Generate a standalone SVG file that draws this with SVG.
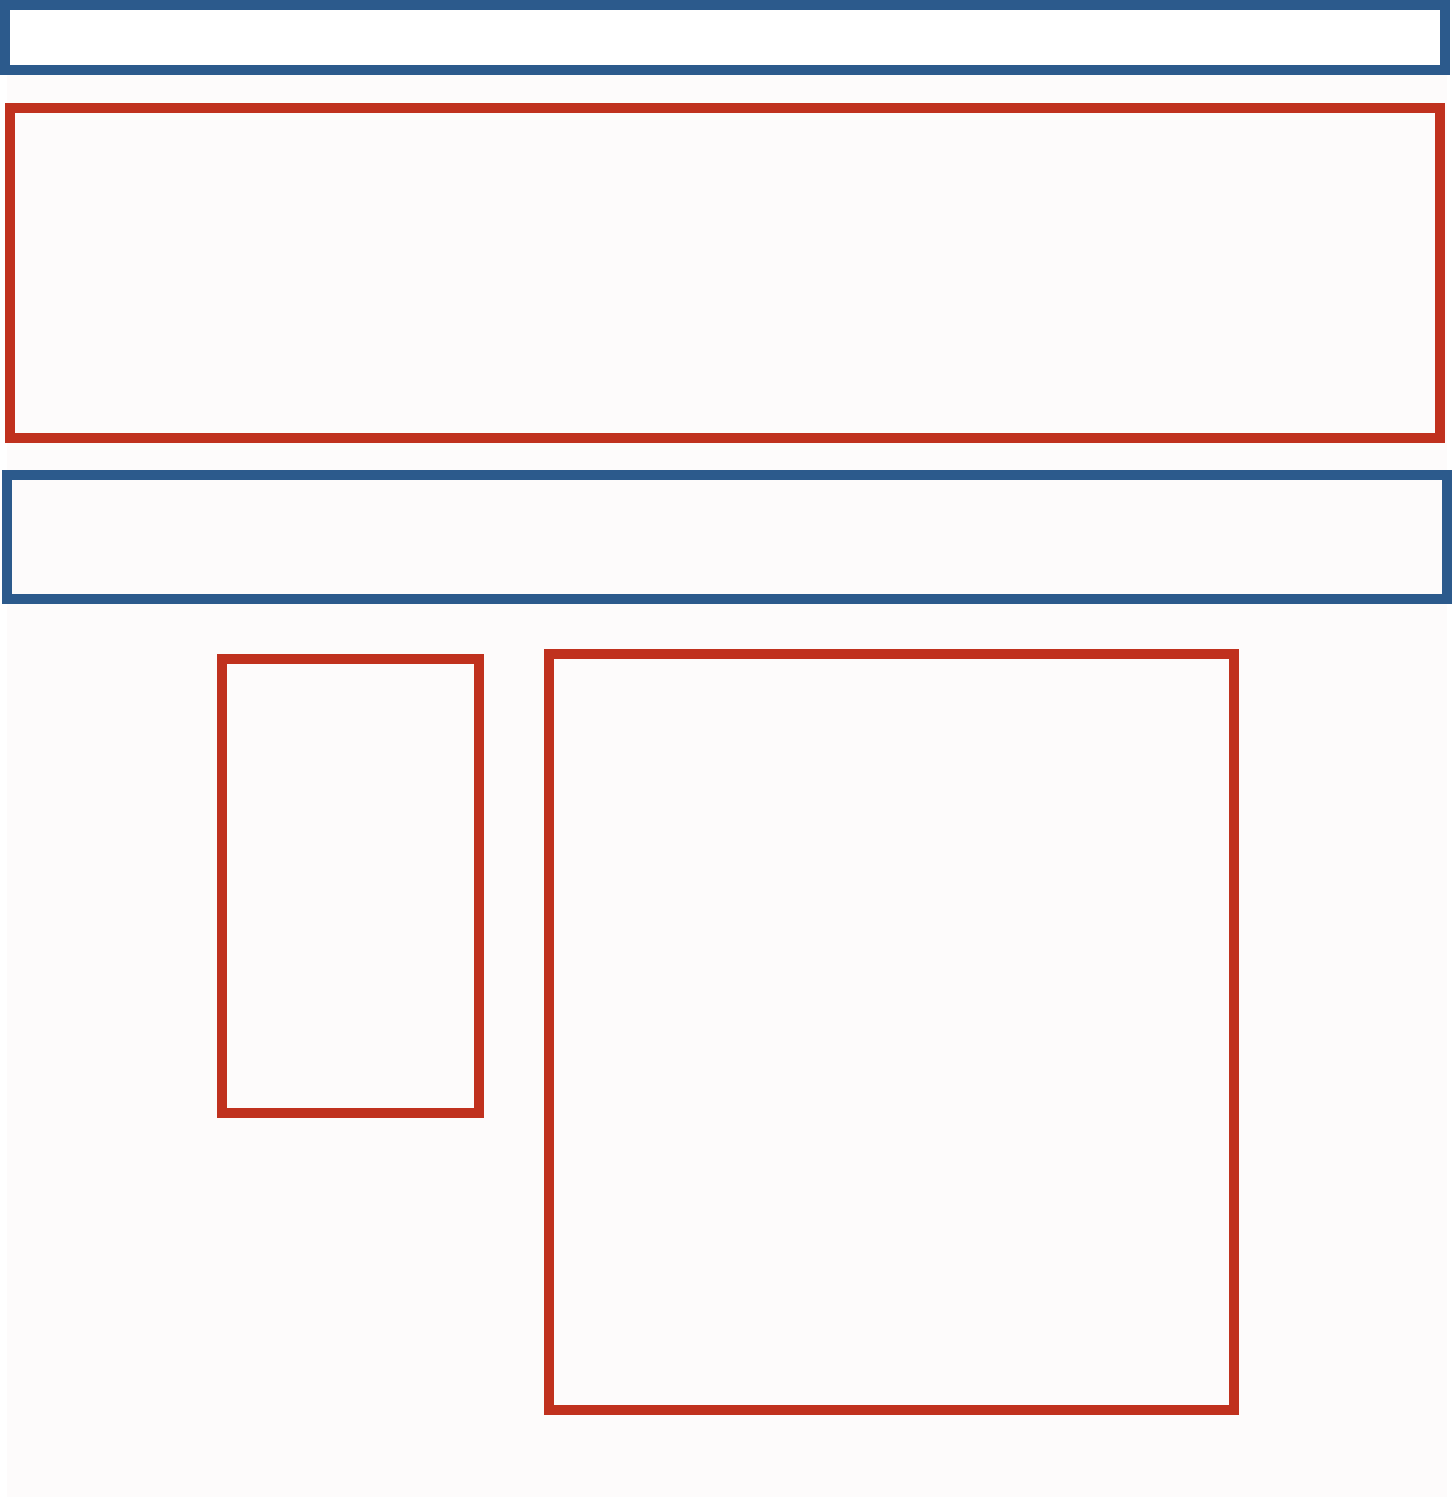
<svg xmlns="http://www.w3.org/2000/svg" width="1452" height="1500" viewBox="0 0 1452 1500">
<style>
.blue{fill:none;stroke:#2c5a8c;stroke-width:10}
.red{fill:none;stroke:#c0311e;stroke-width:10}
</style>
<rect x="0" y="0" width="1452" height="1500" fill="#ffffff"/>
<rect x="7" y="0" width="1440" height="1497" fill="#fdfbfb"/>
<g id="header"><rect x="5" y="5" width="1440" height="65" fill="#ffffff" stroke="#2c5a8c" stroke-width="10"/></g>
<g id="panel-top"><rect class="red" x="10" y="108" width="1430" height="330"/></g>
<g id="band"><rect class="blue" x="7" y="475" width="1440" height="124"/></g>
<g id="box-left"><rect class="red" x="222" y="659" width="257" height="454"/></g>
<g id="box-right"><rect class="red" x="549" y="654" width="685" height="756"/></g>
<g id="connectors"></g>
</svg>
